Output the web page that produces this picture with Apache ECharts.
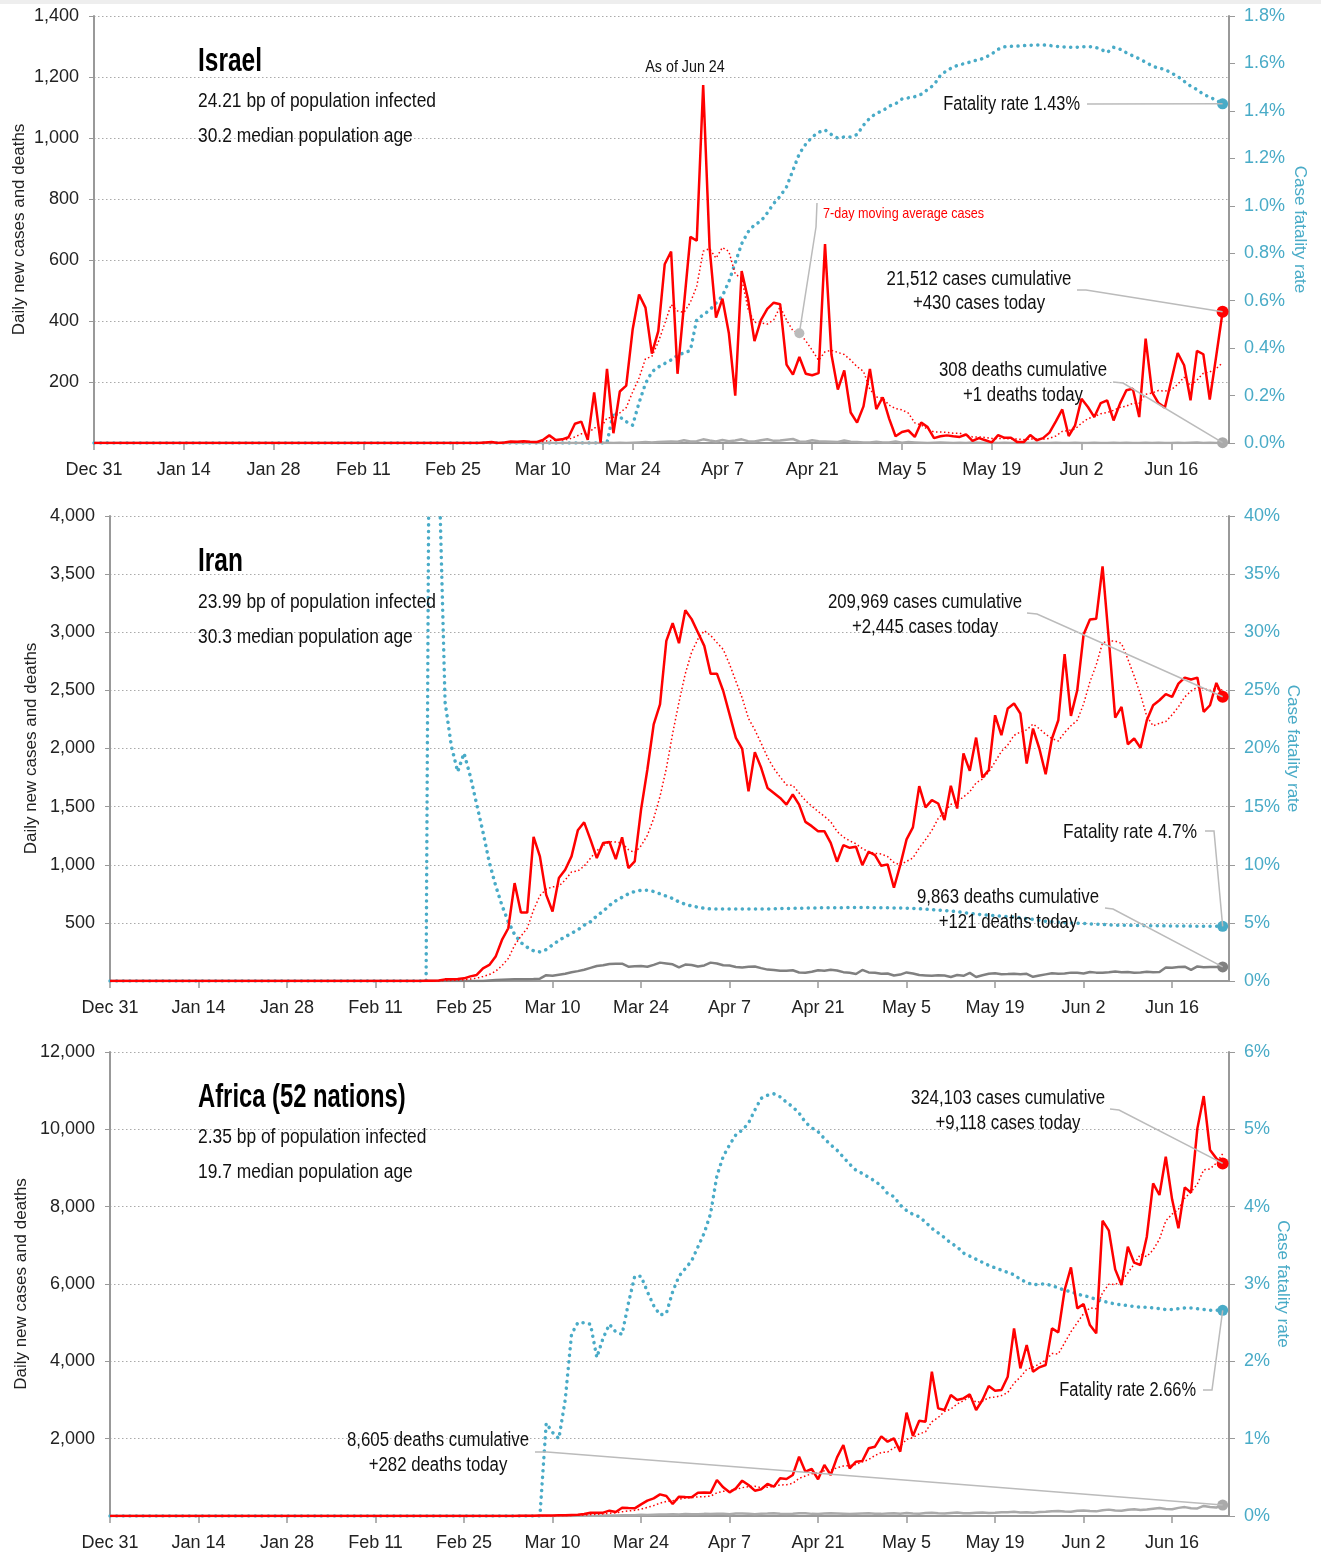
<!DOCTYPE html>
<html>
<head>
<meta charset="utf-8">
<title>Daily new cases, deaths and fatality rate</title>
<script src="https://cdn.jsdelivr.net/npm/echarts@6/dist/echarts.min.js"></script>
<style>
  html, body { margin: 0; padding: 0; background: #fff; }
  #chart { width: 1321px; height: 1557px; }
</style>
</head>
<body>
<div id="chart"></div>
<script>
// ---- data ----
const tickLabels = ['Dec 31','Jan 14','Jan 28','Feb 11','Feb 25','Mar 10','Mar 24','Apr 7','Apr 21','May 5','May 19','Jun 2','Jun 16'];
const nDays = 178; // Dec 31 .. Jun 25 (last data point is Jun 24)

// Israel, cases from Feb 29 (day 60)
const israelCasesStart = 60;
const israelCases = [0,2,3,0,2,5,4,6,4,3,
  10,25,10,12,19,63,70,10,166,1,
  243,32,169,188,372,487,444,293,367,586,
  628,227,451,676,663,1174,640,411,473,361,
  155,564,471,334,403,440,460,455,257,224,
  282,227,222,229,652,290,175,238,100,67,
  120,243,111,150,80,22,36,41,20,67,
  52,16,22,25,22,20,28,7,16,9,
  2,26,17,17,3,3,26,9,16,34,
  71,110,23,58,145,118,85,131,140,74,
  129,173,178,85,342,167,131,116,205,295,
  255,140,302,291,142,284,430];
const israelDeathsStart = 80;
const israelDeaths = [1,0,1,0,1,2,3,2,3,4,
  5,4,9,5,6,12,8,5,10,6,
  8,12,6,5,9,12,7,8,11,13,
  5,4,9,6,5,4,3,8,4,3,
  2,2,4,2,2,5,1,3,2,1,
  0,1,2,1,0,1,0,2,1,0,
  1,0,1,0,0,1,0,1,0,0,
  1,0,0,1,0,0,1,0,0,1,
  0,1,0,0,1,0,1,0,0,1,
  0,1,2,0,1,0,1];
const israelRateStart = 80;
const israelRate = [0,0.13,0.11,0.09,0.075,0.17,0.25,0.3,0.32,0.335,
  0.35,0.37,0.38,0.39,0.52,0.54,0.56,0.59,0.62,0.68,
  0.76,0.84,0.89,0.92,0.935,0.97,1.01,1.04,1.08,1.15,
  1.22,1.26,1.29,1.31,1.32,1.3,1.285,1.29,1.29,1.3,
  1.34,1.37,1.39,1.4,1.42,1.43,1.45,1.455,1.46,1.47,
  1.49,1.51,1.55,1.57,1.585,1.595,1.6,1.61,1.615,1.625,
  1.64,1.66,1.67,1.672,1.673,1.675,1.677,1.678,1.678,1.676,
  1.672,1.67,1.668,1.668,1.67,1.671,1.67,1.66,1.646,1.668,
  1.66,1.645,1.632,1.62,1.605,1.59,1.58,1.575,1.56,1.545,
  1.525,1.505,1.49,1.47,1.458,1.445,1.43];

// Iran
const iranCasesStart = 49;
const iranCases = [0,2,3,5,14,15,18,23,40,52,
  109,138,210,353,454,842,589,589,1239,1072,
  741,598,885,957,1072,1296,1365,1216,1058,1187,
  1196,1049,1236,971,1029,1474,1819,2207,2380,2926,
  3078,2906,3190,3113,2998,2883,2644,2644,2495,2293,
  2092,1997,1632,1969,1834,1661,1618,1575,1517,1604,
  1517,1369,1332,1289,1289,1189,1026,1169,1146,1155,
  997,1112,1083,991,1003,802,997,1218,1321,1676,
  1493,1556,1527,1384,1679,1484,1957,1808,2094,1750,
  1814,2286,2114,2344,2387,2301,1871,2172,2000,1779,
  2086,2243,2811,2281,2501,2980,3109,3117,3567,2931,
  2266,2358,2037,2086,2005,2243,2372,2415,2467,2444,
  2558,2610,2593,2610,2315,2372,2564,2445];
const iranDeathsStart = 60;
const iranDeaths = [5,8,10,12,14,15,16,17,20,50,
  45,54,63,75,85,97,113,129,135,147,
  149,149,123,127,129,122,139,158,151,144,
  117,141,138,124,134,158,151,136,133,121,
  117,122,125,111,98,94,88,89,92,73,
  71,80,93,89,96,91,76,71,60,95,
  74,71,63,65,47,55,74,64,51,48,
  45,50,48,35,51,45,70,35,50,62,
  66,58,60,63,58,62,36,48,57,66,
  63,65,72,70,64,78,72,70,75,81,
  75,78,71,74,80,76,78,117,115,120,
  123,95,125,119,120,121,121];
const iranRateStart = 50;
const iranRate = [0,100,45,24,20.2,18,19.6,17.6,15.2,
  12.8,10.2,8.2,6.5,5.1,4,3.3,2.9,2.6,2.5,
  2.7,3.1,3.5,3.8,4.1,4.4,4.8,5.1,5.6,6,
  6.5,6.9,7.2,7.5,7.7,7.8,7.8,7.7,7.5,7.3,
  7.1,6.8,6.6,6.45,6.35,6.25,6.2,6.2,6.2,6.2,
  6.2,6.2,6.2,6.2,6.2,6.2,6.22,6.23,6.24,6.25,
  6.26,6.27,6.28,6.29,6.3,6.3,6.31,6.31,6.32,6.32,
  6.32,6.32,6.31,6.3,6.3,6.29,6.28,6.27,6.25,6.22,
  6.18,6.14,6.1,6.06,6.02,5.96,5.89,5.82,5.76,5.7,
  5.66,5.62,5.58,5.54,5.5,5.44,5.37,5.3,5.22,5.14,
  5.1,5.06,5.02,4.99,4.97,4.95,4.92,4.89,4.86,4.83,
  4.81,4.8,4.79,4.78,4.77,4.76,4.75,4.75,4.74,4.74,
  4.73,4.73,4.72,4.72,4.71,4.71,4.7,4.7];

// Africa (52 nations)
const africaCasesStart = 60;
const africaCases = [1,1,2,3,2,4,6,8,10,12,
  15,20,22,26,30,52,86,86,86,138,
  103,215,205,198,302,397,457,560,517,310,
  500,490,483,603,605,603,931,741,612,715,
  914,802,655,690,828,759,974,957,1060,1534,
  1146,1215,948,1319,1060,1517,1836,1233,1405,1422,
  1750,1793,2060,1922,2008,1664,2672,2069,2465,2439,
  3732,2784,2741,3129,3000,3043,3146,2741,3000,3362,
  3241,3258,3603,4853,3819,4422,3732,3845,3905,4853,
  4750,5844,6431,5370,5482,4939,4724,7637,7379,6379,
  5974,6965,6551,6491,7224,8603,8301,9292,8189,7439,
  8499,8361,10025,10861,9465,9249,9118];
const africaDeathsStart = 70;
const africaDeaths = [1,2,1,3,4,5,6,8,10,12,
  15,18,20,22,30,28,35,40,38,45,
  42,50,48,46,55,52,60,58,45,62,
  66,58,48,55,62,70,60,52,58,72,
  68,55,50,62,70,64,58,52,60,66,
  72,60,55,64,70,56,78,66,60,75,
  82,70,65,80,88,72,70,85,90,76,
  82,95,100,110,92,98,85,105,112,125,
  130,118,110,135,140,128,120,150,165,145,
  138,160,172,155,168,190,205,180,175,210,
  230,200,195,260,235,220,282];
const africaRateStart = 68;
const africaRate = [0,1.2,1.08,1.0,1.5,2.35,2.5,2.5,2.48,2.05,
  2.3,2.48,2.38,2.35,2.75,3.1,3.1,2.9,2.72,2.6,
  2.62,2.9,3.1,3.2,3.3,3.48,3.66,3.91,4.4,4.65,
  4.8,4.93,4.99,5.08,5.25,5.4,5.44,5.46,5.42,5.35,
  5.29,5.21,5.09,5.02,4.97,4.88,4.8,4.73,4.64,4.55,
  4.47,4.43,4.38,4.33,4.27,4.17,4.13,4.02,3.95,3.9,
  3.87,3.8,3.72,3.66,3.6,3.53,3.48,3.4,3.36,3.32,
  3.28,3.24,3.21,3.18,3.15,3.12,3.06,3.02,2.99,3.0,
  3.0,2.98,2.95,2.92,2.9,2.87,2.85,2.83,2.8,2.78,
  2.76,2.74,2.73,2.72,2.71,2.7,2.7,2.69,2.68,2.67,
  2.67,2.68,2.69,2.69,2.68,2.67,2.66,2.66,2.66];

// ---- helpers ----
const FONT = "'Liberation Sans', Arial, sans-serif";
const SQUEEZE = 0.84; // the reference uses a condensed face
const RED = '#ff0000';
const BLUE = '#49abc7';
const AXIS = '#999';

const days = [];
for (let i = 0; i < nDays; i++) {
  const d = new Date(2019, 11, 31 + i);
  days.push(d.toLocaleString('en-US', {month: 'short'}) + ' ' + d.getDate());
}
// zeros before the first reported day
function pad(start, arr) { return new Array(start).fill(0).concat(arr); }
// trailing 7-day mean of the daily cases
function movingAvg(arr) {
  return arr.map((v, i) => {
    const w = arr.slice(Math.max(0, i - 6), i + 1);
    return Math.round(w.reduce((a, b) => a + b, 0) / w.length);
  });
}

const panels = [
  { grid: {left: 94, top: 16, width: 1135, height: 427}, yMax: 1400, yInt: 200,
    rMax: 1.8, rInt: 0.2, rFmt: v => v.toFixed(1) + '%', nameGap: 66, rNameGap: 62,
    cases: pad(israelCasesStart, israelCases), deaths: pad(israelDeathsStart, israelDeaths),
    rate: pad(israelRateStart, israelRate), deathColor: '#aaa' },
  { grid: {left: 110, top: 516, width: 1119, height: 465}, yMax: 4000, yInt: 500,
    rMax: 40, rInt: 5, rFmt: v => v + '%', nameGap: 70, rNameGap: 55,
    cases: pad(iranCasesStart, iranCases), deaths: pad(iranDeathsStart, iranDeaths),
    rate: pad(iranRateStart, iranRate), deathColor: '#808080' },
  { grid: {left: 110, top: 1052, width: 1119, height: 464}, yMax: 12000, yInt: 2000,
    rMax: 6, rInt: 1, rFmt: v => v + '%', nameGap: 80, rNameGap: 45,
    cases: pad(africaCasesStart, africaCases), deaths: pad(africaDeathsStart, africaDeaths),
    rate: pad(africaRateStart, africaRate), deathColor: '#aaa' }
];
panels.forEach(p => { p.ma = movingAvg(p.cases); });

const last = 176;
function endDot(color, dayIdx, v, size) {
  return { symbol: 'circle', symbolSize: size || 11, silent: true, label: {show: false},
    itemStyle: {color: color}, data: [{coord: [days[dayIdx], v]}] };
}

const option = {
  animation: false,
  backgroundColor: '#fff',
  textStyle: {fontFamily: FONT},
  grid: panels.map(p => Object.assign({outerBoundsMode: 'none', containLabel: false}, p.grid)),
  xAxis: panels.map((p, i) => ({
    type: 'category', gridIndex: i, data: days, boundaryGap: false,
    axisLine: {lineStyle: {color: AXIS, width: 2}},
    axisTick: {interval: k => k % 14 === 0, length: 7, lineStyle: {color: AXIS, width: 1.5}},
    axisLabel: {interval: k => k % 14 === 0, formatter: (v, k) => tickLabels[k / 14],
      fontSize: 18, color: '#222', fontFamily: FONT, margin: 18},
    splitLine: {show: false}
  })),
  yAxis: [],
  series: []
};

panels.forEach((p, i) => {
  option.yAxis.push({
    type: 'value', gridIndex: i, position: 'left', min: 0, max: p.yMax, interval: p.yInt,
    name: 'Daily new cases and deaths', nameLocation: 'middle', nameGap: p.nameGap,
    nameMoveOverlap: false,
    nameTextStyle: {fontSize: 17, color: '#222', fontFamily: FONT},
    axisLine: {show: true, lineStyle: {color: AXIS, width: 2}},
    axisTick: {show: true, length: 5, lineStyle: {color: AXIS}},
    axisLabel: {showMinLabel: false, fontSize: 18, color: '#222', fontFamily: FONT, margin: 15,
      formatter: v => v.toLocaleString('en-US')},
    splitLine: {show: true, lineStyle: {color: '#aaa', type: [1.5, 2.5], width: 1}}
  });
  option.yAxis.push({
    type: 'value', gridIndex: i, position: 'right', min: 0, max: p.rMax, interval: p.rInt,
    name: 'Case fatality rate', nameLocation: 'middle', nameGap: p.rNameGap, nameRotate: -90,
    nameMoveOverlap: false,
    nameTextStyle: {fontSize: 17, color: BLUE, fontFamily: FONT},
    axisLine: {show: true, lineStyle: {color: AXIS, width: 2}},
    axisTick: {show: true, length: 6, lineStyle: {color: AXIS}},
    axisLabel: {fontSize: 18, color: BLUE, fontFamily: FONT, margin: 15, formatter: p.rFmt},
    splitLine: {show: false}
  });
  const xi = i, yl = 2 * i, yr = 2 * i + 1;
  option.series.push({
    name: 'rate' + i, type: 'line', xAxisIndex: xi, yAxisIndex: yr, data: p.rate,
    showSymbol: false, silent: true, z: 2,
    lineStyle: {color: BLUE, width: 3.5, type: [0.1, 6.5], cap: 'round'},
    markPoint: endDot(BLUE, last, p.rate[last], 11)
  });
  option.series.push({
    name: 'deaths' + i, type: 'line', xAxisIndex: xi, yAxisIndex: yl, data: p.deaths,
    showSymbol: false, silent: true, z: 3,
    lineStyle: {color: p.deathColor, width: 2.5},
    markPoint: endDot(p.deathColor, last, p.deaths[last], 11)
  });
  option.series.push({
    name: 'ma' + i, type: 'line', xAxisIndex: xi, yAxisIndex: yl, data: p.ma,
    showSymbol: false, silent: true, z: 4,
    lineStyle: {color: RED, width: 1.5, type: [1.5, 2.5]},
    markPoint: i === 0 ? endDot('#bbb', 110, p.ma[110], 10) : undefined
  });
  option.series.push({
    name: 'cases' + i, type: 'line', xAxisIndex: xi, yAxisIndex: yl, data: p.cases,
    showSymbol: false, silent: true, z: 5,
    lineStyle: {color: RED, width: 2.5},
    markPoint: endDot(RED, last, p.cases[last], 12)
  });
});

const chart = echarts.init(document.getElementById('chart'), null, {renderer: 'canvas'});
chart.setOption(option);

// ---- annotations ----
function px(seriesIndex, dayIdx, v) {
  return chart.convertToPixel({seriesIndex: seriesIndex}, [days[dayIdx], v]);
}
function txt(x, y, s, size, align, color, weight, squeeze) {
  return { type: 'text', x: x, y: y, scaleX: squeeze || SQUEEZE, silent: true, z: 100,
    style: { text: s, font: (weight || 'normal') + ' ' + size + 'px ' + FONT,
      fill: color || '#111', textAlign: align || 'left', align: align || 'left',
      textVerticalAlign: 'middle', verticalAlign: 'middle' } };
}
function leader(points) {
  return { type: 'polyline', silent: true, z: 90,
    shape: {points: points}, style: {stroke: '#bbb', lineWidth: 1.5, fill: null} };
}

const g = [
  {type: 'rect', shape: {x: 0, y: 0, width: 1321, height: 4}, style: {fill: '#eee'}, silent: true}
];
// Israel
g.push(txt(198, 62, 'Israel', 34, 'left', '#000', 'bold', 0.72));
g.push(txt(198, 101, '24.21 bp of population infected', 20, 'left', '#111', 'normal', 0.87));
g.push(txt(198, 136, '30.2 median population age', 20, 'left', '#111', 'normal', 0.87));
g.push(txt(685, 67, 'As of Jun 24', 17, 'center'));
g.push(txt(1080, 104, 'Fatality rate 1.43%', 20, 'right', '#111', 'normal', 0.82));
g.push(txt(979, 279, '21,512 cases cumulative', 20, 'center'));
g.push(txt(979, 303, '+430 cases today', 20, 'center'));
g.push(txt(1023, 370, '308 deaths cumulative', 20, 'center'));
g.push(txt(1023, 395, '+1 deaths today', 20, 'center'));
g.push(txt(823, 214, '7-day moving average cases', 15, 'left', RED));
g.push(leader([[1087, 104], px(0, last, panels[0].rate[last])]));
g.push(leader([[1077, 290], [1086, 290], px(3, last, panels[0].cases[last])]));
g.push(leader([[1113, 382], [1123, 383], px(1, last, panels[0].deaths[last])]));
g.push(leader([[817, 203], [816, 227], px(2, 110, panels[0].ma[110])]));
// Iran
g.push(txt(198, 562, 'Iran', 34, 'left', '#000', 'bold', 0.72));
g.push(txt(198, 602, '23.99 bp of population infected', 20, 'left', '#111', 'normal', 0.87));
g.push(txt(198, 637, '30.3 median population age', 20, 'left', '#111', 'normal', 0.87));
g.push(txt(925, 602, '209,969 cases cumulative', 20, 'center'));
g.push(txt(925, 627, '+2,445 cases today', 20, 'center'));
g.push(txt(1197, 832, 'Fatality rate 4.7%', 21, 'right', '#111', 'normal', 0.82));
g.push(txt(1008, 897, '9,863 deaths cumulative', 20, 'center'));
g.push(txt(1008, 922, '+121 deaths today', 20, 'center'));
g.push(leader([[1027, 613], [1037, 614], px(7, last, panels[1].cases[last])]));
g.push(leader([[1205, 831], [1214, 831], px(4, last, panels[1].rate[last])]));
g.push(leader([[1105, 908], [1113, 909], px(5, last, panels[1].deaths[last])]));
// Africa
g.push(txt(198, 1098, 'Africa (52 nations)', 34, 'left', '#000', 'bold', 0.7));
g.push(txt(198, 1137, '2.35 bp of population infected', 20, 'left', '#111', 'normal', 0.87));
g.push(txt(198, 1172, '19.7 median population age', 20, 'left', '#111', 'normal', 0.87));
g.push(txt(1008, 1098, '324,103 cases cumulative', 20, 'center'));
g.push(txt(1008, 1123, '+9,118 cases today', 20, 'center'));
g.push(txt(1196, 1390, 'Fatality rate 2.66%', 20, 'right', '#111', 'normal', 0.82));
g.push(txt(438, 1440, '8,605 deaths cumulative', 20, 'center'));
g.push(txt(438, 1465, '+282 deaths today', 20, 'center'));
g.push(leader([[1110, 1109], [1119, 1110], px(11, last, panels[2].cases[last])]));
g.push(leader([[1203, 1390], [1212, 1390], px(8, last, panels[2].rate[last])]));
g.push(leader([[535, 1452], [547, 1452], px(9, last, panels[2].deaths[last])]));

chart.setOption({graphic: g});
</script>
</body>
</html>
